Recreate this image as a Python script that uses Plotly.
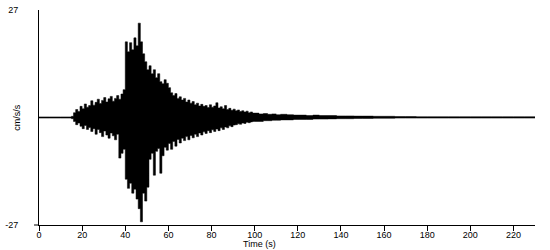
import plotly.graph_objects as go

# Time bins (s) - start of each bin
t_bins = [0, 5, 10, 15] + list(range(16, 100)) + [100, 102, 104, 106, 108, 110, 112, 115, 118, 121, 124, 127, 130,
                                                  134, 138, 142, 146, 150, 155, 160, 165, 170, 175, 180, 185, 190,
                                                  195, 200, 205, 210, 215, 220, 225, 230]

# Peak (max) acceleration within each bin, cm/s/s
upper = [0.15, 0.15, 0.15, 0.3,
         1.2, 2.0, 1.5, 2.8, 2.2, 3.4, 2.6, 3.0, 4.2, 3.1, 3.8, 4.6, 3.5, 4.3, 5.0, 3.9, 4.7, 5.3, 4.1, 4.8, 5.5,
         4.6, 5.9, 7.0, 19.0, 16.5, 18.8, 17.0, 20.0, 18.0, 23.7, 19.0, 16.0, 14.0, 12.0, 13.0, 11.0, 12.0, 10.0,
         11.0, 9.0, 8.5, 9.5, 8.6, 7.5, 6.2, 5.5, 6.0, 4.8, 5.2, 4.4, 4.8, 3.9, 4.4, 3.6, 4.0, 3.2, 3.6, 2.9, 3.3,
         2.8, 3.0, 2.5, 3.2, 2.6, 2.9, 3.7, 2.4, 2.7, 2.2, 3.0, 2.0, 2.3, 1.8, 2.1, 1.7, 1.9, 1.5, 1.7, 1.4, 1.6,
         1.2, 1.4, 1.1,
         1.1, 0.9, 1.0, 0.8, 0.9, 0.7, 0.8, 0.7, 0.6, 0.6, 0.5, 0.6, 0.5, 0.5, 0.4, 0.4, 0.35, 0.35, 0.3, 0.3,
         0.25, 0.25, 0.2, 0.2, 0.2, 0.2, 0.2, 0.2, 0.2, 0.2, 0.2, 0.2, 0.2, 0.2]

# Trough (min) acceleration within each bin, cm/s/s
lower = [-0.15, -0.15, -0.15, -0.3,
         -1.0, -1.8, -1.4, -2.2, -2.8, -2.0, -3.0, -2.5, -3.5, -2.8, -4.2, -3.0, -3.8, -4.8, -3.4, -4.4, -5.2,
         -3.9, -4.6, -5.6, -4.2, -10.2, -9.0, -8.0, -15.5, -17.8, -16.5, -19.0, -18.0, -20.5, -22.9, -26.2, -19.0,
         -21.0, -17.5, -10.5, -9.0, -14.5, -8.5, -7.8, -14.0, -9.6, -7.5, -8.2, -6.5, -8.0, -6.0, -7.2, -5.5,
         -6.4, -5.2, -5.8, -4.8, -5.6, -4.5, -5.1, -4.2, -4.8, -3.9, -4.4, -3.6, -4.0, -3.3, -3.8, -3.1, -3.5,
         -2.9, -3.3, -2.6, -3.0, -2.4, -2.6, -2.1, -2.3, -1.9, -1.8, -1.6, -1.7, -1.4, -1.5, -1.2, -1.3, -1.1, -1.0,
         -1.0, -1.0, -0.8, -0.8, -0.7, -0.7, -0.6, -0.6, -0.5, -0.5, -0.5, -0.4, -0.4, -0.35, -0.3, -0.3, -0.25,
         -0.25, -0.2, -0.2, -0.15, -0.15, -0.15, -0.15, -0.15, -0.15, -0.15, -0.15, -0.15, -0.15, -0.15, -0.15,
         -0.15, -0.15]

x_ticks = list(range(0, 221, 20))
y_ticks = [-27, 27]
y_tick_text = ["-27", "27"]

FONT = "Liberation Sans, Arial, sans-serif"

fig = go.Figure()
fig.add_trace(go.Scatter(x=t_bins, y=lower, mode="lines", line=dict(color="black", width=0.5, shape="hv"),
                         hoverinfo="skip", showlegend=False))
fig.add_trace(go.Scatter(x=t_bins, y=upper, mode="lines", line=dict(color="black", width=0.5, shape="hv"),
                         fill="tonexty", fillcolor="black", hoverinfo="skip", showlegend=False))

fig.update_layout(
    width=550, height=250,
    margin=dict(l=35, r=15, t=5, b=25),
    paper_bgcolor="white", plot_bgcolor="white",
    font=dict(family=FONT, size=10, color="black"),
    xaxis=dict(range=[0, 230], tickvals=x_ticks, ticks="outside", ticklen=5, tickcolor="black",
               showline=True, linecolor="black", linewidth=1, showgrid=False, zeroline=False,
               ticklabelstandoff=-4, tickfont=dict(size=9)),
    yaxis=dict(range=[-27, 27], tickvals=y_ticks, ticktext=y_tick_text, ticks="", showline=True,
               linecolor="black", linewidth=1, showgrid=False, zeroline=False, ticklabelstandoff=18,
               ticklabeloverflow="allow", tickfont=dict(size=9)),
    shapes=[dict(type="line", xref="paper", yref="paper", x0=-0.01, x1=0, y0=0, y1=0,
                 line=dict(color="black", width=1))],
    annotations=[
        dict(text="Time (s)", xref="paper", yref="paper", x=0.444, y=0, yshift=-25,
             showarrow=False, font=dict(size=9), yanchor="bottom", borderpad=0),
        dict(text="cm/s/s", xref="paper", yref="paper", x=-0.046, y=0.5, textangle=-90,
             showarrow=False, font=dict(size=9), xanchor="center"),
    ],
)

fig.write_html("out.html")
